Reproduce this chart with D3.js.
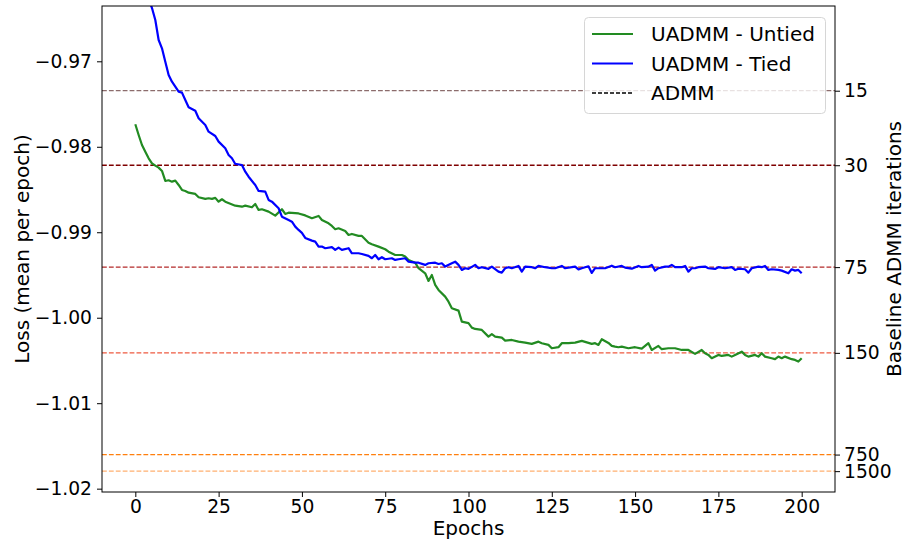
<!DOCTYPE html>
<html>
<head>
<meta charset="utf-8">
<script src="https://cdn.jsdelivr.net/npm/d3@7"></script>
<style>
  body { margin: 0; background: #fff; }
  text { font-family: "DejaVu Sans", sans-serif; fill: #000; }
</style>
</head>
<body>
<svg id="chart" width="907" height="540"></svg>
<script>
// UADMM - Untied, [epoch, loss]
const untied = [
  [0,-0.97737],[1,-0.97862],[2,-0.97979],[3,-0.98057],[4,-0.98135],[5,-0.98193],[6,-0.98221],[7,-0.98244],
  [8,-0.98283],[9,-0.98400],[10,-0.98392],[11,-0.98408],[12,-0.98396],[13,-0.98447],[14,-0.98505],[15,-0.98517],
  [16,-0.98537],[18,-0.98552],[19,-0.98591],[21,-0.98610],[22,-0.98602],[23,-0.98610],[24,-0.98598],[25,-0.98642],
  [26,-0.98614],[27,-0.98642],[30,-0.98689],[32,-0.98701],[33,-0.98689],[35,-0.98708],[36,-0.98669],[37,-0.98739],
  [38,-0.98731],[40,-0.98759],[42,-0.98806],[44,-0.98731],[45,-0.98786],[46,-0.98771],[49,-0.98780],[51,-0.98803],
  [53,-0.98836],[55,-0.98809],[56,-0.98856],[58,-0.98895],[59,-0.98926],[60,-0.98965],[61,-0.98953],[63,-0.98985],
  [64,-0.99032],[65,-0.99020],[67,-0.99043],[68,-0.99043],[70,-0.99122],[71,-0.99140],[73,-0.99168],[75,-0.99199],
  [76,-0.99227],[78,-0.99266],[80,-0.99266],[81,-0.99285],[82,-0.99324],[84,-0.99356],[85,-0.99421],[87,-0.99480],
  [88,-0.99570],[89,-0.99500],[90,-0.99616],[91,-0.99675],[93,-0.99753],[94,-0.99812],[95,-0.99889],[97,-0.99917],
  [98,-1.00046],[100,-1.00064],[101,-1.00116],[102,-1.00131],[104,-1.00143],[106,-1.00221],[107,-1.00193],[108,-1.00221],
  [110,-1.00233],[111,-1.00268],[113,-1.00260],[115,-1.00280],[117,-1.00291],[119,-1.00306],[121,-1.00280],[122,-1.00298],
  [124,-1.00318],[125,-1.00357],[127,-1.00345],[128,-1.00298],[130,-1.00298],[132,-1.00291],[134,-1.00271],[135,-1.00283],
  [137,-1.00306],[138,-1.00298],[139,-1.00318],[140,-1.00252],[142,-1.00295],[143,-1.00330],[144,-1.00338],[145,-1.00345],
  [146,-1.00338],[148,-1.00357],[150,-1.00345],[152,-1.00361],[154,-1.00298],[155,-1.00377],[157,-1.00330],[158,-1.00368],
  [160,-1.00357],[162,-1.00357],[164,-1.00377],[166,-1.00377],[168,-1.00423],[170,-1.00377],[171,-1.00415],[172,-1.00435],
  [173,-1.00474],[175,-1.00435],[176,-1.00447],[178,-1.00435],[179,-1.00455],[180,-1.00435],[182,-1.00397],[183,-1.00435],
  [184,-1.00455],[186,-1.00435],[187,-1.00455],[188,-1.00415],[189,-1.00455],[191,-1.00474],[192,-1.00485],[193,-1.00455],
  [194,-1.00474],[195,-1.00455],[197,-1.00485],[198,-1.00494],[199,-1.00513],[200,-1.00474]
]

// UADMM - Tied, [epoch, loss] (first few epochs sit above the visible range)
const tied = [
  [0,-0.9545],[1,-0.9570],[2,-0.9592],[3,-0.9611],[4,-0.9627],[5,-0.96377],[6,-0.96517],[7,-0.96751],
  [8,-0.96848],[9,-0.97005],[10,-0.97160],[11,-0.97239],[12,-0.97297],[13,-0.97356],[14,-0.97367],[15,-0.97453],
  [16,-0.97538],[18,-0.97578],[19,-0.97667],[21,-0.97745],[22,-0.97823],[24,-0.97874],[25,-0.97940],[27,-0.98018],
  [28,-0.98096],[29,-0.98135],[30,-0.98201],[32,-0.98213],[33,-0.98291],[34,-0.98350],[36,-0.98447],[37,-0.98517],
  [39,-0.98525],[40,-0.98622],[41,-0.98642],[43,-0.98719],[44,-0.98818],[46,-0.98856],[47,-0.98876],[48,-0.98934],
  [49,-0.98973],[50,-0.99008],[51,-0.99067],[53,-0.99098],[54,-0.99110],[55,-0.99168],[56,-0.99168],[57,-0.99187],
  [59,-0.99175],[60,-0.99207],[61,-0.99180],[62,-0.99207],[64,-0.99187],[65,-0.99246],[67,-0.99246],[68,-0.99254],
  [70,-0.99277],[71,-0.99304],[72,-0.99266],[73,-0.99316],[74,-0.99292],[75,-0.99316],[77,-0.99304],[78,-0.99324],
  [79,-0.99316],[81,-0.99304],[82,-0.99344],[84,-0.99356],[85,-0.99356],[87,-0.99382],[88,-0.99363],[90,-0.99356],
  [91,-0.99371],[92,-0.99363],[93,-0.99402],[95,-0.99363],[96,-0.99344],[97,-0.99382],[98,-0.99441],[99,-0.99421],
  [100,-0.99429],[102,-0.99382],[103,-0.99421],[104,-0.99409],[106,-0.99429],[107,-0.99402],[109,-0.99461],[110,-0.99473],
  [111,-0.99421],[112,-0.99409],[113,-0.99421],[115,-0.99394],[116,-0.99461],[117,-0.99402],[119,-0.99409],[120,-0.99421],
  [121,-0.99394],[123,-0.99409],[125,-0.99421],[126,-0.99421],[128,-0.99394],[129,-0.99421],[131,-0.99409],[132,-0.99402],
  [133,-0.99435],[134,-0.99421],[136,-0.99398],[137,-0.99476],[138,-0.99421],[140,-0.99421],[141,-0.99421],[143,-0.99391],
  [144,-0.99409],[146,-0.99394],[147,-0.99414],[149,-0.99426],[151,-0.99394],[152,-0.99409],[154,-0.99402],[155,-0.99382],
  [156,-0.99449],[157,-0.99421],[159,-0.99402],[160,-0.99402],[161,-0.99382],[162,-0.99409],[164,-0.99409],[165,-0.99394],
  [166,-0.99461],[167,-0.99421],[168,-0.99421],[169,-0.99409],[171,-0.99402],[172,-0.99421],[174,-0.99429],[175,-0.99409],
  [177,-0.99421],[179,-0.99409],[180,-0.99441],[181,-0.99426],[183,-0.99433],[184,-0.99473],[185,-0.99421],[187,-0.99402],
  [188,-0.99409],[189,-0.99394],[190,-0.99441],[191,-0.99433],[193,-0.99441],[194,-0.99449],[196,-0.99480],[197,-0.99433],
  [198,-0.99449],[199,-0.99441],[200,-0.99480]
]

// Baseline ADMM: iterations and the loss they reach
const baselineIters = [15, 30, 75, 150, 750, 1500]
const baselineLoss = [-0.97344, -0.98216, -0.99408, -1.00411, -1.01601, -1.01795]
const baselineColors = ['#8c6c6c', '#7f0000', '#b42a2a', '#ee5a40', '#ff7f0e', '#ffb070']

const xTicks = [0, 25, 50, 75, 100, 125, 150, 175, 200]
const yTicks = [-0.97, -0.98, -0.99, -1.00, -1.01, -1.02]

const legendItems = [
  { label: 'UADMM - Untied', color: '#228b22', dash: null },
  { label: 'UADMM - Tied', color: '#0000ff', dash: null },
  { label: 'ADMM', color: '#000', dash: '4,2' }
]

const margin = { top: 6, left: 102 },
    width = 733,
    height = 486

const x = d3.scaleLinear().domain([-10, 210]).range([0, width])
const y = d3.scaleLinear().domain([-0.96353, -1.02039]).range([0, height])

const svg = d3.select('#chart')
const g = svg.append('g').attr('transform', `translate(${margin.left},${margin.top})`)

g.append('clipPath').attr('id', 'plot-clip')
    .append('rect')
    .attr('width', width)
    .attr('height', height)

const plot = g.append('g').attr('clip-path', 'url(#plot-clip)')

// Baseline dashed lines
plot.selectAll('line.baseline')
    .data(baselineLoss)
    .enter()
        .append('line').classed('baseline', true)
        .attr('x1', 0)
        .attr('x2', width)
        .attr('y1', d => y(d))
        .attr('y2', d => y(d))
        .attr('stroke', (d, i) => baselineColors[i])
        .attr('stroke-width', 1.3)
        .attr('stroke-dasharray', '4.8,2.1')

const line = d3.line()
    .x(d => x(d[0]))
    .y(d => y(d[1]))

plot.append('path')
    .datum(untied)
    .attr('d', line)
    .attr('fill', 'none')
    .attr('stroke', '#228b22')
    .attr('stroke-width', 2.2)
    .attr('stroke-linejoin', 'round')

plot.append('path')
    .datum(tied)
    .attr('d', line)
    .attr('fill', 'none')
    .attr('stroke', '#0000ff')
    .attr('stroke-width', 2.2)
    .attr('stroke-linejoin', 'round')

// Axes
const tickFont = 18.7

const xAxis = g.append('g')
    .attr('transform', `translate(0,${height})`)
    .call(d3.axisBottom(x).tickValues(xTicks).tickSize(5).tickSizeOuter(0).tickPadding(3))

const yAxis = g.append('g')
    .call(d3.axisLeft(y).tickValues(yTicks).tickFormat(d3.format('.2f')).tickSize(5).tickSizeOuter(0).tickPadding(5))

const rAxis = g.append('g')
    .attr('transform', `translate(${width},0)`)
    .call(d3.axisRight(y)
        .tickValues(baselineLoss)
        .tickFormat((d, i) => baselineIters[i])
        .tickSize(5).tickSizeOuter(0).tickPadding(4))

;[xAxis, yAxis, rAxis].forEach(a => {
    a.select('.domain').remove()
    a.selectAll('.tick line').attr('stroke', '#000').attr('stroke-width', 1)
    a.selectAll('.tick text')
        .style('font-family', '"DejaVu Sans", sans-serif')
        .style('font-size', tickFont + 'px')
        .attr('fill', '#000')
})
xAxis.selectAll('.tick text').attr('dy', '0.71em')

// Frame
g.append('rect')
    .attr('width', width)
    .attr('height', height)
    .attr('fill', 'none')
    .attr('stroke', '#000')
    .attr('stroke-width', 1)

// Axis labels
svg.append('text')
    .attr('x', margin.left + width / 2)
    .attr('y', 535)
    .attr('text-anchor', 'middle')
    .style('font-size', '20px')
    .text('Epochs')

svg.append('text')
    .attr('transform', `translate(22,${margin.top + height / 2}) rotate(-90)`)
    .attr('text-anchor', 'middle')
    .attr('dominant-baseline', 'central')
    .style('font-size', '20px')
    .text('Loss (mean per epoch)')

svg.append('text')
    .attr('transform', `translate(894,${margin.top + height / 2}) rotate(-90)`)
    .attr('text-anchor', 'middle')
    .attr('dominant-baseline', 'central')
    .style('font-size', '20px')
    .text('Baseline ADMM iterations')

// Legend
const legend = svg.append('g')

legend.append('rect')
    .attr('x', 584.5)
    .attr('y', 17.5)
    .attr('width', 241)
    .attr('height', 96)
    .attr('rx', 4)
    .attr('fill', 'rgba(255,255,255,0.8)')
    .attr('stroke', '#d6d6d6')
    .attr('stroke-width', 1)

const rows = legend.selectAll('g.item')
    .data(legendItems)
    .enter()
        .append('g').classed('item', true)
        .attr('transform', (d, i) => `translate(0,${34 + i * 29.5})`)

rows.append('line')
    .attr('x1', 592)
    .attr('x2', 633)
    .attr('stroke', d => d.color)
    .attr('stroke-width', d => d.dash ? 1.3 : 2)
    .attr('stroke-dasharray', d => d.dash)

rows.append('text')
    .attr('x', 651)
    .attr('dominant-baseline', 'central')
    .style('font-size', '20px')
    .text(d => d.label)
</script>
</body>
</html>
